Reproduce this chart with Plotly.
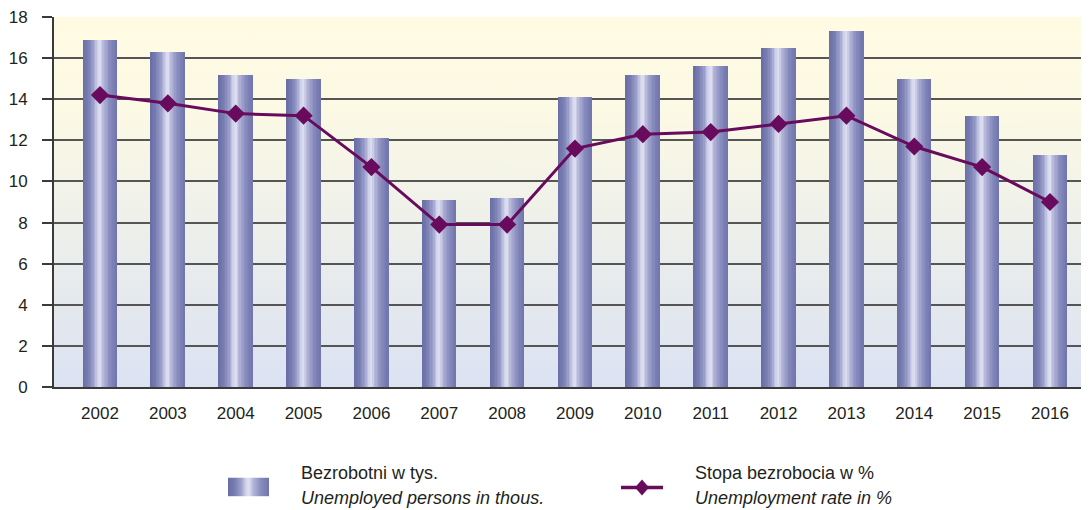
import base64
import plotly.graph_objects as go

years = ["2002", "2003", "2004", "2005", "2006", "2007", "2008", "2009",
         "2010", "2011", "2012", "2013", "2014", "2015", "2016"]
unemployed_thous = [16.9, 16.3, 15.2, 15.0, 12.1, 9.1, 9.2, 14.1,
                    15.2, 15.6, 16.5, 17.3, 15.0, 13.2, 11.3]
unemployment_rate = [14.2, 13.8, 13.3, 13.2, 10.7, 7.9, 7.9, 11.6,
                     12.3, 12.4, 12.8, 13.2, 11.7, 10.7, 9.0]
y_ticks = [0, 2, 4, 6, 8, 10, 12, 14, 16, 18]

bar_name_pl = "Bezrobotni w tys."
bar_name_en = "Unemployed persons in thous."
line_name_pl = "Stopa bezrobocia w %"
line_name_en = "Unemployment rate in %"

FONT = "Liberation Sans Narrow, Arial Narrow, Liberation Sans, Arial, sans-serif"
TXT = "#231f20"
LINE_COL = "#680b5c"

# page has an 8px body margin; figure is sized/offset to compensate
OFF = 8
W, H = 1089 - OFF, 510 - OFF
# plot area in page pixels
PX0, PX1, PY0, PY1 = 54, 1089, 15, 387
ML, MR, MT, MB = PX0 - OFF, 0, PY0 - OFF, H - (PY1 - OFF)
PW, PH = PX1 - PX0, PY1 - PY0

idx = list(range(len(years)))
XMIN, XMAX = -0.678, 14.575

grad_stops = [(0.0, (104, 110, 165)), (0.15, (118, 123, 176)), (0.32, (156, 159, 203)),
              (0.45, (214, 215, 237)), (0.52, (220, 221, 240)), (0.62, (178, 180, 215)),
              (0.8, (136, 140, 190)), (1.0, (112, 117, 172))]


def grad_color(t):
    for (t0, c0), (t1, c1) in zip(grad_stops[:-1], grad_stops[1:]):
        if t0 <= t <= t1:
            f = (t - t0) / (t1 - t0)
            c = [round(a + (b - a) * f) for a, b in zip(c0, c1)]
            return "rgb(%d,%d,%d)" % tuple(c)
    return "rgb(%d,%d,%d)" % grad_stops[-1][1]


fig = go.Figure()

BAR_W = 0.5
N = 24
sw = BAR_W / N
for k in range(N):
    fig.add_trace(go.Bar(
        x=idx, y=unemployed_thous,
        width=sw * 1.15, offset=-BAR_W / 2 + k * sw,
        marker=dict(color=grad_color((k + 0.5) / N), line=dict(width=0)),
        showlegend=False, hoverinfo="skip" if k else None,
        name=bar_name_pl,
    ))

fig.add_trace(go.Scatter(
    x=idx, y=unemployment_rate, mode="lines+markers",
    line=dict(color=LINE_COL, width=3),
    marker=dict(symbol="diamond", size=14, color=LINE_COL),
    showlegend=False, name=line_name_pl,
))


def svg_uri(svg):
    return "data:image/svg+xml;base64," + base64.b64encode(svg.encode()).decode()


bg_svg = ('<svg xmlns="http://www.w3.org/2000/svg" width="100" height="100" viewBox="0 0 100 100" '
          'preserveAspectRatio="none"><defs><linearGradient id="g" x1="0" y1="0" x2="0" y2="1">'
          '<stop offset="0" stop-color="#fffbe3"/><stop offset="0.25" stop-color="#fcf9e4"/>'
          '<stop offset="0.55" stop-color="#eef0ea"/><stop offset="1" stop-color="#dbe2f2"/>'
          '</linearGradient></defs><rect width="100" height="100" fill="url(#g)"/></svg>')

stops_svg = "".join('<stop offset="%g" stop-color="rgb(%d,%d,%d)"/>' % ((t,) + c) for t, c in grad_stops)
leg_svg = ('<svg xmlns="http://www.w3.org/2000/svg" width="100" height="100" viewBox="0 0 100 100" '
           'preserveAspectRatio="none"><defs><linearGradient id="g" x1="0" y1="0" x2="1" y2="0">'
           + stops_svg + '</linearGradient></defs><rect width="100" height="100" fill="url(#g)"/></svg>')


def px(xp):
    return (xp - PX0) / PW


def py(yp):
    return (PY1 - yp) / PH


images = [
    dict(source=svg_uri(bg_svg), xref="paper", yref="paper", x=0, y=1, sizex=1, sizey=1,
         xanchor="left", yanchor="top", sizing="stretch", layer="below"),
    dict(source=svg_uri(leg_svg), xref="paper", yref="paper", x=px(228), y=py(478),
         sizex=41 / PW, sizey=19 / PH, xanchor="left", yanchor="top", sizing="stretch", layer="above"),
]

shapes = [
    dict(type="line", xref="paper", yref="paper", x0=px(621), x1=px(663), y0=py(488), y1=py(488),
         line=dict(color=LINE_COL, width=3.5)),
    dict(type="path", xref="paper", yref="paper",
         path="M %f %f L %f %f L %f %f L %f %f Z" % (px(642), py(480), px(649), py(488),
                                                     px(642), py(496), px(635), py(488)),
         fillcolor=LINE_COL, line=dict(width=0)),
]

LEG_SIZE = 18


def leg_text(text, x, y):
    return dict(text=text, xref="paper", yref="paper", x=px(x), y=py(y), xanchor="left",
                yanchor="middle", align="left", showarrow=False,
                font=dict(family=FONT, size=LEG_SIZE, color=TXT))


annotations = [
    leg_text(bar_name_pl, 299, 473),
    leg_text("<i>" + bar_name_en + "</i>", 299, 499),
    leg_text(line_name_pl, 693, 473),
    leg_text("<i>" + line_name_en + "</i>", 693, 499),
]

fig.update_layout(
    width=W, height=H,
    margin=dict(l=ML, r=MR, t=MT, b=MB, pad=0),
    barmode="overlay", bargap=0,
    paper_bgcolor="white", plot_bgcolor="rgba(0,0,0,0)",
    font=dict(family=FONT, size=17, color=TXT),
    images=images, shapes=shapes, annotations=annotations,
    showlegend=False,
    xaxis=dict(range=[XMIN, XMAX], tickmode="array", tickvals=idx, ticktext=years,
               showgrid=False, zeroline=False, showline=True, linecolor="#3a3a3a", linewidth=2,
               ticks="", ticklabelstandoff=10, ticklabeloverflow="allow",
               tickfont=dict(size=17, color=TXT)),
    yaxis=dict(range=[0, 18], tickmode="array", tickvals=y_ticks, ticktext=[str(v) for v in y_ticks],
               showgrid=True, gridcolor="#555555", gridwidth=1.5, zeroline=False,
               showline=True, linecolor="#3a3a3a", linewidth=2,
               ticks="outside", ticklen=10, tickwidth=1.5, tickcolor="#3a3a3a",
               ticklabelstandoff=11, ticklabeloverflow="allow",
               tickfont=dict(size=17, color=TXT)),
)

fig.write_html("out.html")
